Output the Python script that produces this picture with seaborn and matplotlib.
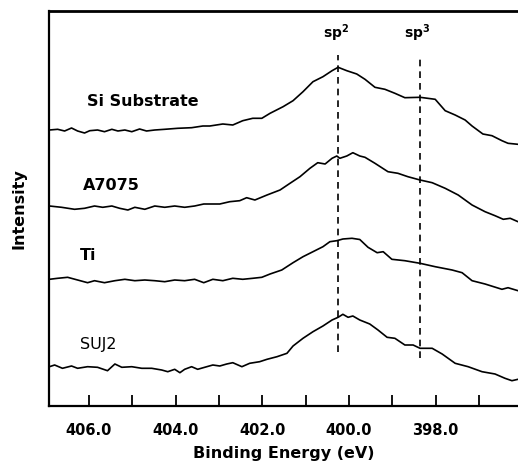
import matplotlib
matplotlib.use('Agg')
import matplotlib.pyplot as plt
import numpy as np
import pandas as pd
import seaborn as sns
from matplotlib.ticker import FixedLocator

sns.set_theme(style='ticks')
plt.rcParams['font.family'] = ['DejaVu Sans']
plt.rcParams['text.color'] = 'black'
plt.rcParams['axes.labelcolor'] = 'black'
plt.rcParams['xtick.color'] = 'black'
plt.rcParams['xtick.labelcolor'] = 'black'

# binding energy (eV) / intensity (arb.)
si_e = [406.91, 406.72, 406.56, 406.40, 406.26, 406.10, 405.98, 405.80, 405.64, 405.47,
        405.33, 405.17, 405.01, 404.83, 404.67, 404.48, 404.25, 403.95, 403.63, 403.37,
        403.21, 402.91, 402.68, 402.45, 402.22, 402.01, 401.82, 401.52, 401.29, 401.06,
        400.83, 400.60, 400.39, 400.25, 400.05, 399.82, 399.63, 399.40, 399.17, 398.94,
        398.71, 398.36, 398.01, 397.78, 397.55, 397.32, 397.16, 396.91, 396.70, 396.47,
        396.33, 396.10]
si_i = [276, 276.7, 275, 278, 275, 273, 275.3, 276, 274.3, 276.7,
        275, 276, 274.3, 277, 275, 276, 276.7, 277.7, 278.3, 280,
        280, 282, 281, 285.3, 287.7, 287.7, 292.7, 299.3, 305.3, 314.3,
        324.3, 329.3, 335.3, 338.7, 335.3, 332, 326.7, 318.7, 316.7, 312.7,
        308.3, 308.7, 306.7, 295.3, 291, 286, 280, 272, 270.3, 265.3,
        262.7, 261.7]

a7_e = [406.91, 406.63, 406.33, 406.10, 405.87, 405.68, 405.47, 405.29, 405.10, 404.94,
        404.71, 404.48, 404.25, 404.02, 403.79, 403.56, 403.35, 403.21, 402.98, 402.75,
        402.52, 402.36, 402.17, 401.89, 401.59, 401.36, 401.13, 400.90, 400.72, 400.55,
        400.39, 400.28, 400.21, 400.05, 399.91, 399.75, 399.63, 399.40, 399.10, 398.87,
        398.64, 398.36, 398.08, 397.78, 397.48, 397.16, 396.86, 396.63, 396.44, 396.28,
        396.10]
a7_i = [200, 198.7, 196.7, 197.7, 200, 198.7, 200, 197.7, 196, 198.7,
        196.7, 200, 198.7, 200, 198.7, 200, 202, 202, 202, 204.3,
        205.3, 208.3, 206, 211, 216, 222.7, 229.3, 237.7, 243.3, 242,
        247.7, 250, 247.7, 250, 253.3, 250, 248.7, 242.7, 234.3, 232.7,
        229.3, 226, 223.3, 217.7, 211, 201, 194.3, 190.3, 186.7, 187.7,
        184.3]

ti_e = [406.91, 406.72, 406.49, 406.26, 406.03, 405.87, 405.64, 405.40, 405.17, 404.94,
        404.71, 404.48, 404.25, 404.02, 403.79, 403.56, 403.35, 403.14, 402.91, 402.68,
        402.45, 402.22, 402.01, 401.82, 401.55, 401.29, 401.06, 400.83, 400.60, 400.44,
        400.28, 400.14, 399.93, 399.75, 399.56, 399.35, 399.21, 399.01, 398.71, 398.36,
        398.01, 397.62, 397.39, 397.16, 396.86, 396.47, 396.33, 396.10]
ti_i = [126.7, 127.7, 128.7, 126, 123.3, 125.3, 123.3, 125.3, 126.7, 125.3,
        126, 125.3, 124.3, 126, 125.3, 126.7, 123.3, 126.7, 125.3, 127.7,
        126.7, 127.7, 128.7, 132, 136, 143.3, 149.3, 154.3, 159.3, 164.3,
        165.3, 167, 167.7, 166.5, 158.7, 153.3, 154.3, 146.7, 145.3, 142.7,
        139.3, 136, 133.3, 125.3, 122, 116.7, 118.3, 115.3]

suj_e = [406.91, 406.79, 406.61, 406.40, 406.26, 406.03, 405.80, 405.57, 405.40, 405.24,
         405.01, 404.78, 404.55, 404.32, 404.18, 404.02, 403.90, 403.79, 403.63, 403.49,
         403.28, 403.14, 402.98, 402.82, 402.68, 402.47, 402.29, 402.06, 401.89, 401.66,
         401.43, 401.29, 401.06, 400.83, 400.60, 400.39, 400.25, 400.14, 400.02, 399.91,
         399.75, 399.52, 399.33, 399.12, 398.94, 398.71, 398.52, 398.36, 398.08, 397.85,
         397.55, 397.25, 396.93, 396.63, 396.40, 396.24, 396.10]
suj_i = [39.3, 41, 37.7, 40, 37.7, 39.3, 38.7, 35.3, 42, 38.7,
         39.3, 37.7, 37.7, 36, 34.3, 36.7, 33.3, 36.7, 39.3, 36.7,
         39.3, 41, 40, 42, 43.3, 39.3, 42.7, 44.3, 46.7, 49.3,
         52.7, 60, 67.7, 74.3, 80, 86, 88.7, 91.7, 88.7, 90,
         86, 82, 76, 68.7, 67.7, 61, 61, 57.7, 57.7, 52,
         42.7, 39.3, 34.3, 32, 27.7, 25.3, 26.7]

samples = ['Si Substrate', 'A7075', 'Ti', 'SUJ2']
label_pos = [(406.05, 304), (406.14, 221), (406.21, 151), (406.21, 61)]
sp2_e, sp3_e = 400.25, 398.35

frames = []
for name, e, i in zip(samples, [si_e, a7_e, ti_e, suj_e], [si_i, a7_i, ti_i, suj_i]):
    frames.append(pd.DataFrame({'energy': e, 'intensity': i, 'sample': name}))
df = pd.concat(frames, ignore_index=True)

fig = plt.figure(figsize=(5.18, 4.70), dpi=100)
ax = fig.add_axes([49/518, 64/470, 469/518, 395/470])
sns.lineplot(data=df, x='energy', y='intensity', hue='sample', palette=['black']*4,
             estimator=None, sort=False, legend=False, linewidth=1.2, ax=ax)

ax.plot([sp2_e, sp2_e], [54, 351], color='black', ls=(0, (4, 3)), lw=1.2)
ax.plot([sp3_e, sp3_e], [48, 348], color='black', ls=(0, (4, 3)), lw=1.2)
ax.text(sp2_e + 0.05, 373, 'sp$^\\mathbf{2}$', ha='center', va='center', fontsize=10, fontweight='bold')
ax.text(sp3_e + 0.08, 373, 'sp$^\\mathbf{3}$', ha='center', va='center', fontsize=10, fontweight='bold')

for name, (x, y) in zip(samples, label_pos):
    ax.text(x, y, name, ha='left', va='center', fontsize=11.5,
            fontweight='medium' if name == 'SUJ2' else 'bold')

ax.set_xlim(406.92, 396.1)
ax.set_ylim(0, 395)
ax.xaxis.set_major_locator(FixedLocator([406, 404, 402, 400, 398]))
ax.xaxis.set_minor_locator(FixedLocator([405, 403, 401, 399, 397]))
ax.set_xticklabels(['406.0', '404.0', '402.0', '400.0', '398.0'], fontweight='bold', fontsize=10.5)
ax.tick_params(axis='x', which='both', direction='in', length=8, width=1.3, color='black', pad=12)
ax.set_yticks([])
ax.set_xlabel('Binding Energy (eV)', fontweight='bold', fontsize=11.5, labelpad=6)
ax.set_ylabel('Intensity', fontweight='bold', fontsize=11.5, labelpad=16)
ax.spines['left'].set_linewidth(1.6)
ax.spines['bottom'].set_linewidth(1.6)
ax.spines['top'].set_linewidth(2.0)
for s in ['left', 'bottom', 'top']:
    ax.spines[s].set_color('black')
ax.spines['right'].set_visible(False)

plt.savefig('out.png', dpi=100)
